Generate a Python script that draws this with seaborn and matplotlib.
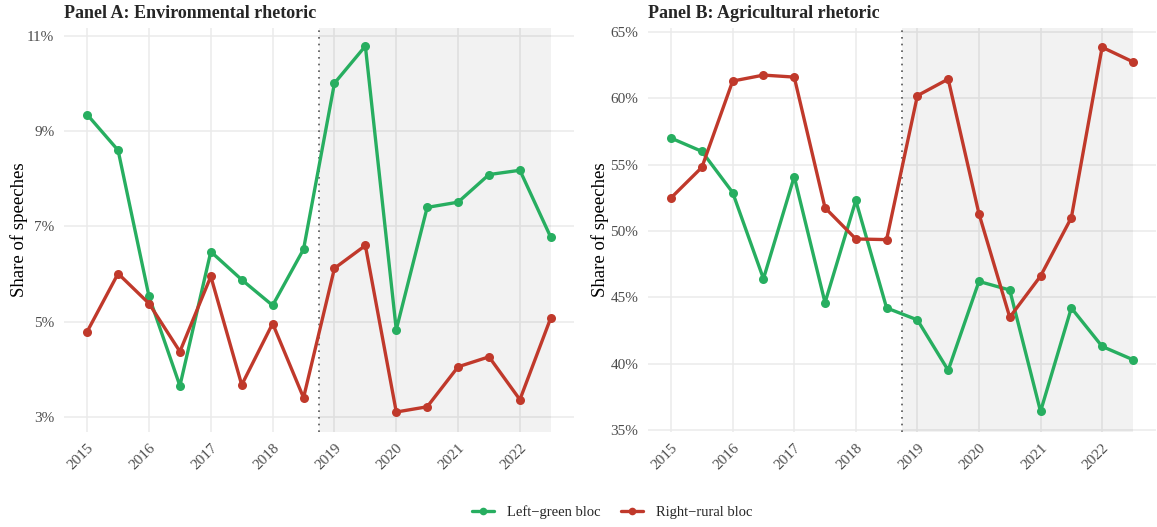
import numpy as np
import pandas as pd
import matplotlib
matplotlib.use("Agg")
import matplotlib.pyplot as plt
from matplotlib.lines import Line2D
from matplotlib.ticker import FuncFormatter
import seaborn as sns

# Half-year periods
periods = [2015.0, 2015.5, 2016.0, 2016.5, 2017.0, 2017.5, 2018.0, 2018.5,
           2019.0, 2019.5, 2020.0, 2020.5, 2021.0, 2021.5, 2022.0, 2022.5]

# Panel A: environmental rhetoric (% of speeches)
env_left_green = [9.35, 8.60, 5.53, 3.65, 6.47, 5.88, 5.34, 6.52,
                  10.01, 10.79, 4.83, 7.40, 7.51, 8.09, 8.18, 6.77]
env_right_rural = [4.79, 6.01, 5.38, 4.37, 5.95, 3.67, 4.96, 3.40,
                   6.12, 6.60, 3.10, 3.21, 4.05, 4.26, 3.36, 5.08]

# Panel B: agricultural rhetoric (% of speeches)
agr_left_green = [57.0, 56.0, 52.9, 46.4, 54.1, 44.6, 52.3, 44.2,
                  43.3, 39.5, 46.2, 45.55, 36.4, 44.2, 41.3, 40.3]
agr_right_rural = [52.5, 54.8, 61.3, 61.75, 61.6, 51.75, 49.4, 49.35,
                   60.2, 61.45, 51.3, 43.5, 46.6, 51.0, 63.85, 62.75]

blocs = ["Left\u2212green bloc", "Right\u2212rural bloc"]
palette = {blocs[0]: "#27AE60", blocs[1]: "#C0392B"}
year_ticks = list(range(2015, 2023))
treatment_start = 2018.75

sns.set_theme(style="white")
plt.rcParams["font.family"] = ["Liberation Serif", "DejaVu Serif"]
plt.rcParams["axes.unicode_minus"] = True


def long_frame(left, right):
    return pd.DataFrame({
        "period": periods * 2,
        "share": list(left) + list(right),
        "bloc": [blocs[0]] * len(periods) + [blocs[1]] * len(periods),
    })


def draw_panel(ax, df, title, yticks, ylim, ylabel_x):
    ax.set_xlim(2014.625, 2022.875)
    ax.set_ylim(*ylim)
    ax.set_xticks(year_ticks)
    ax.set_yticks(yticks)
    ax.grid(True, color="#EBEBEB", linewidth=1.1, zorder=0)
    ax.set_axisbelow(True)
    ax.axvspan(treatment_start, 2022.5, color="black", alpha=0.05,
               linewidth=0, zorder=1)
    ax.axvline(treatment_start, color="#555555", linestyle=(0, (1, 3)),
               linewidth=1.2, zorder=2)
    sns.lineplot(data=df, x="period", y="share", hue="bloc", palette=palette,
                 marker="o", markersize=6.5, markeredgewidth=0, linewidth=2.4,
                 ax=ax, legend=False, zorder=3)
    for s in ax.spines.values():
        s.set_visible(False)
    ax.yaxis.set_major_formatter(FuncFormatter(lambda v, p: f"{v:.0f}%"))
    ax.tick_params(axis="y", length=0, labelsize=11, labelcolor="#4D4D4D",
                   pad=7)
    ax.tick_params(axis="x", length=0, labelsize=11, labelcolor="#4D4D4D",
                   pad=7)
    for lab in ax.get_xticklabels():
        lab.set_rotation(45)
        lab.set_ha("right")
        lab.set_rotation_mode("anchor")
    ax.set_xlabel("")
    ax.set_ylabel("Share of speeches", fontsize=13.5, color="black")
    ax.yaxis.set_label_coords(ylabel_x, 0.5)
    ax.set_title(title, loc="left", fontsize=13, fontweight="bold", pad=7)


fig = plt.figure(figsize=(11.57, 5.27), dpi=100)
ax_a = fig.add_axes([64 / 1157, 95 / 527, 510 / 1157, 404 / 527])
ax_b = fig.add_axes([648 / 1157, 95 / 527, 508 / 1157, 404 / 527])

draw_panel(ax_a, long_frame(env_left_green, env_right_rural),
           "Panel A: Environmental rhetoric", [3, 5, 7, 9, 11], (2.68, 11.17),
           -0.070)
draw_panel(ax_b, long_frame(agr_left_green, agr_right_rural),
           "Panel B: Agricultural rhetoric", [35, 40, 45, 50, 55, 60, 65],
           (34.85, 65.3), -0.077)

handles = [Line2D([0], [0], color=palette[b], linewidth=2.4, marker="o",
                  markersize=5.5, markeredgewidth=0) for b in blocs]
fig.legend(handles, blocs, loc="center",
           bbox_to_anchor=(612 / 1157, 1 - 512 / 527),
           ncol=2, frameon=False, fontsize=10.5, handlelength=1.5,
           columnspacing=1.4, handletextpad=0.9)

fig.savefig("out.png", dpi=100)
